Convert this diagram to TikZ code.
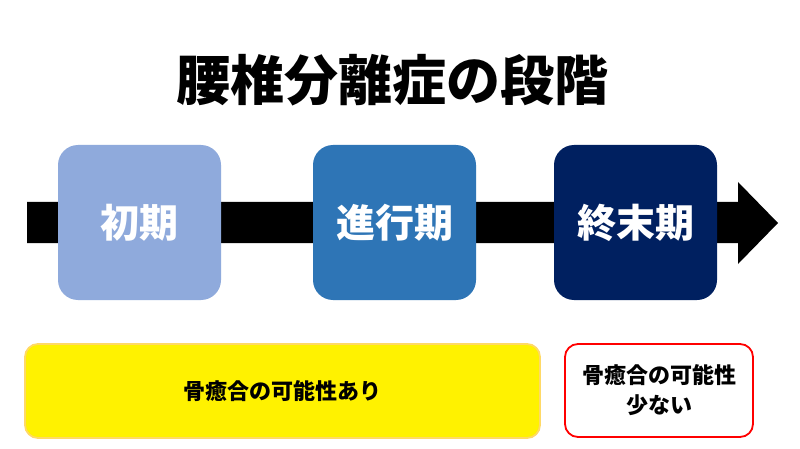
\documentclass[tikz,border=0pt]{standalone}
\usepackage{fontspec}
\newfontfamily\cjk{Noto Sans CJK JP}
\definecolor{c1}{HTML}{8FAADC}
\definecolor{c2}{HTML}{2E75B6}
\definecolor{c3}{HTML}{002060}
\definecolor{yborder}{HTML}{FFD966}
\begin{document}
\begin{tikzpicture}[x=1pt,y=-1pt,
  stage/.style={rounded corners=20pt, minimum width=163pt, minimum height=155pt, inner sep=0pt, text=white, font=\cjk\bfseries\fontsize{39}{44}\selectfont},
  note/.style={rounded corners=13pt, inner sep=0pt, line width=1.8pt, align=center, font=\cjk\bfseries\fontsize{22}{30}\selectfont}]
\useasboundingbox[fill=white] (0,0) rectangle (800,449);
\node[font=\cjk\bfseries\fontsize{54}{60}\selectfont] (title) at (392,80) {腰椎分離症の段階};
\fill[black] (27,202) -- (738,202) -- (738,182) -- (778,223) -- (738,264) -- (738,243) -- (27,243) -- cycle;
\node[stage, fill=c1] (s1) at (139.5,222.5) {初期};
\node[stage, fill=c2] (s2) at (394.5,222.5) {進行期};
\node[stage, fill=c3] (s3) at (635.5,222.5) {終末期};
\node[note, draw=yborder, fill=yellow, minimum width=515pt, minimum height=94pt] (n1) at (282.5,391) {骨癒合の可能性あり};
\node[note, draw=red, fill=white, minimum width=188pt, minimum height=93pt] (n2) at (659,390.5) {骨癒合の可能性\\少ない};
\end{tikzpicture}
\end{document}
